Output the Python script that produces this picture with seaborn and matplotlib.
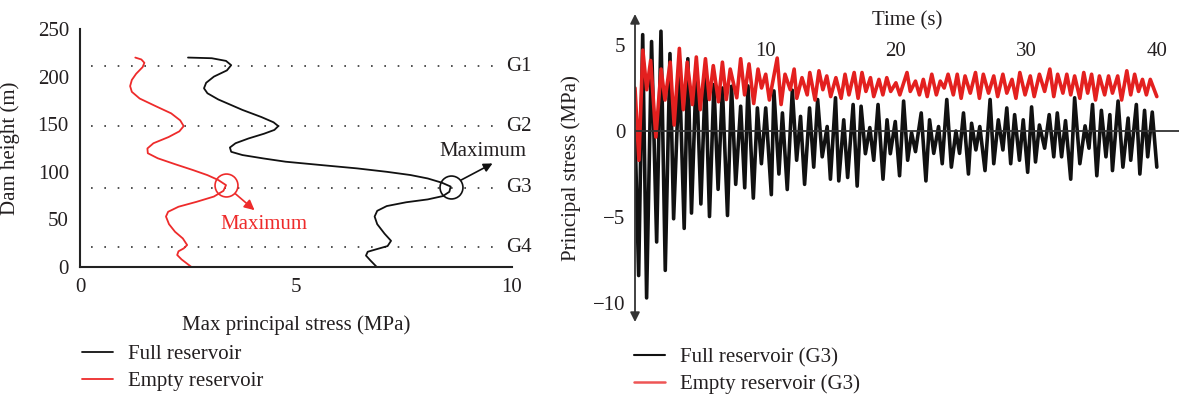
import numpy as np
import pandas as pd
import matplotlib
matplotlib.use("Agg")
import matplotlib.pyplot as plt
import seaborn as sns
from matplotlib.lines import Line2D

# ---------------- data: left panel (profile along dam height) ----------------
full_stress = [2.50, 3.05, 3.38, 3.50, 3.40, 3.10, 2.92, 2.87, 2.95, 3.20, 3.76, 4.20,
               4.48, 4.59, 4.50, 4.26, 3.90, 3.60, 3.47, 3.50, 3.76, 4.25, 4.76, 5.60,
               6.41, 7.10, 7.65, 8.05, 8.38, 8.58, 8.55, 8.40, 8.05, 7.55, 7.10, 6.88,
               6.82, 6.88, 7.05, 7.20, 7.12, 6.85, 6.66, 6.62, 6.72, 6.87]
full_height = [220.0, 219.3, 216.5, 212.0, 206.5, 200.0, 193.5, 187.7, 182.5, 176.0, 165.0, 157.5,
               152.0, 148.0, 144.0, 140.0, 135.0, 130.0, 125.5, 121.0, 117.6, 114.0, 110.6, 107.0,
               103.6, 100.0, 96.6, 93.0, 88.5, 84.5, 79.0, 74.5, 71.0, 68.0, 64.0, 59.0,
               53.0, 45.0, 35.0, 27.5, 22.0, 18.5, 16.0, 12.0, 7.0, 0.0]

empty_stress = [1.28, 1.42, 1.49, 1.45, 1.30, 1.20, 1.16, 1.20, 1.38, 1.75, 2.11, 2.32,
                2.40, 2.30, 2.05, 1.70, 1.56, 1.57, 1.80, 2.20, 2.61, 2.95, 3.20, 3.38,
                3.32, 3.10, 2.70, 2.28, 2.04, 1.99, 2.06, 2.20, 2.38, 2.48, 2.40, 2.28,
                2.25, 2.35, 2.58]
empty_height = [220.0, 218.0, 214.5, 210.0, 203.0, 196.5, 190.0, 184.0, 177.0, 169.0, 161.4, 154.0,
                148.0, 142.5, 136.5, 130.0, 124.5, 119.5, 114.2, 108.0, 101.9, 96.5, 91.4, 86.0,
                80.0, 74.0, 68.5, 63.3, 58.0, 53.0, 45.0, 37.0, 30.0, 23.1, 19.5, 16.5,
                12.6, 8.0, 0.0]

gauge_heights = [211, 148, 83, 21]
gauge_labels = ["G1", "G2", "G3", "G4"]

# ---------------- data: right panel (time history at G3) ----------------
t_full = [0.0, 0.28, 0.59, 0.89, 1.27, 1.66, 1.99, 2.32, 2.68, 2.96, 3.40, 3.77, 4.05, 4.33,
          4.70, 5.05, 5.40, 5.71, 6.05, 6.37, 6.70, 7.09, 7.40, 7.72, 8.10, 8.41, 8.66, 9.07,
          9.38, 9.69, 10.02, 10.45, 10.65, 11.03, 11.30, 11.67, 12.06, 12.39, 12.69, 13.0,
          13.38, 13.7, 14.0, 14.35, 14.73, 14.98, 15.37, 15.62, 16.0, 16.3, 16.72, 17.03,
          17.33, 17.66, 18.0, 18.3, 18.63, 19.01, 19.32, 19.57, 19.95, 20.28, 20.59, 20.9,
          21.2, 21.5, 21.94, 22.3, 22.58, 22.9, 23.27, 23.55, 23.9, 24.25, 24.6, 24.88,
          25.18, 25.56, 25.8, 26.13, 26.43, 26.83, 27.22, 27.5, 27.85, 28.2, 28.5, 28.8,
          29.1, 29.47, 29.76, 30.1, 30.4, 30.7, 31.0, 31.4, 31.75, 32.1, 32.37, 32.7,
          33.0, 33.4, 33.7, 34.1, 34.5, 34.8, 35.07, 35.4, 35.75, 36.1, 36.4, 36.6,
          37.03, 37.4, 37.8, 38.0, 38.43, 38.7, 39.06, 39.3, 39.65, 40.0]
s_full = [0.0, -8.4, 5.6, -9.7, 5.2, -6.45, 5.8, -8.1, 4.5, -5.1, 3.6, -5.66, 4.2, -4.77,
          3.6, -4.24, 3.3, -4.97, 2.7, -3.39, 2.5, -4.91, 2.6, -3.1, 1.44, -3.3, 2.62, -3.9,
          1.34, -1.9, 1.34, -3.7, 2.33, -2.5, 1.05, -3.4, 2.37, -1.7, 0.85, -3.1,
          1.34, -2.1, 1.83, -1.5, 0.26, -2.8, 1.93, -2.9, 0.65, -2.7, 1.54, -3.2,
          1.44, -1.32, 0.2, -1.7, 1.54, -2.8, 0.65, -1.32, 0.55, -2.6, 1.74, -1.7,
          -0.1, -1.2, 1.05, -2.9, 0.65, -1.3, 0.26, -1.9, 1.83, -2.1, 0.0, -1.3,
          1.05, -2.5, 0.45, -1.1, 0.26, -2.3, 1.83, -1.9, 0.65, -1.1, 1.34, -1.9,
          0.95, -1.7, 0.65, -2.4, 1.4, -1.8, 0.35, -1.0, 0.95, -1.5, 1.05, -1.5,
          0.6, -2.8, 1.93, -1.9, 0.3, -1.0, 1.54, -2.6, 1.2, -1.5, 0.95, -2.3,
          1.74, -2.1, 0.75, -1.7, 1.54, -2.5, 1.2, -1.5, 1.1, -2.1]

t_empty = [0.0, 0.3, 0.6, 0.9, 1.2, 1.6, 2.0, 2.3, 2.7, 3.0, 3.4, 3.7, 4.0, 4.4, 4.7, 5.0,
           5.4, 5.7, 6.0, 6.4, 6.7, 7.0, 7.3, 7.8, 8.1, 8.4, 8.74, 9.1, 9.43, 9.7, 10.02,
           10.3, 10.9, 11.2, 11.5, 11.9, 12.2, 12.4, 12.8, 13.2, 13.4, 13.8, 14.1, 14.4,
           14.7, 15.0, 15.4, 15.8, 16.1, 16.4, 16.8, 17.1, 17.4, 17.7, 18.05, 18.3, 18.7,
           19.0, 19.3, 19.6, 20.0, 20.3, 20.85, 21.1, 21.5, 21.8, 22.1, 22.4, 22.75, 23.1,
           23.4, 23.7, 24.0, 24.4, 24.7, 25.0, 25.3, 25.7, 26.1, 26.4, 26.7, 27.1, 27.5,
           27.8, 28.2, 28.5, 28.9, 29.2, 29.5, 29.9, 30.3, 30.6, 31.0, 31.4, 31.8, 32.1,
           32.4, 32.8, 33.1, 33.4, 33.7, 34.1, 34.4, 34.7, 35.0, 35.3, 35.6, 36.0, 36.3,
           36.6, 37.0, 37.3, 37.7, 38.0, 38.3, 38.6, 38.9, 39.2, 39.5, 40.0]
s_empty = [2.5, -1.7, 4.7, 2.4, 4.1, -0.35, 3.6, 1.8, 4.0, 0.35, 4.8, 1.24, 4.0, 1.54, 4.3, 1.24,
           4.2, 1.83, 3.8, 1.7, 4.0, 1.83, 3.6, 1.93, 4.2, 2.1, 3.9, 1.6, 3.6, 2.5, 3.3,
           1.8, 4.24, 1.54, 3.3, 2.4, 3.6, 1.9, 3.1, 2.1, 3.4, 1.8, 3.5, 2.4,
           3.2, 2.0, 3.1, 1.9, 3.3, 2.1, 3.4, 1.9, 3.4, 2.3, 3.1, 2.0, 3.0,
           2.1, 3.1, 2.3, 2.8, 2.1, 3.4, 2.3, 2.9, 2.1, 3.0, 2.0, 3.3, 2.1,
           2.9, 2.5, 3.3, 2.1, 3.3, 1.9, 3.2, 2.2, 3.4, 1.9, 3.3, 2.2, 3.2,
           2.0, 3.3, 2.2, 3.0, 1.9, 3.4, 2.1, 3.2, 2.0, 3.3, 2.3, 3.6, 2.0,
           3.3, 2.2, 3.3, 2.1, 3.2, 1.9, 3.4, 2.2, 3.3, 1.8, 3.2, 2.1, 3.2,
           2.2, 3.2, 1.8, 3.5, 2.1, 3.3, 2.3, 3.0, 2.1, 3.0, 2.0]

time_ticks = [10, 20, 30, 40]
stress_ticks = [-10, -5, 0, 5]
height_ticks = [0, 50, 100, 150, 200, 250]
profile_ticks = [0, 5, 10]

left_labels = ["Full reservoir", "Empty reservoir"]
right_labels = ["Full reservoir (G3)", "Empty reservoir (G3)"]

# ---------------- styling ----------------
sns.set_theme(style="white")
plt.rcParams["font.family"] = ["Liberation Serif", "DejaVu Serif"]
FS = 15
TXT = "#231f20"
BLACK = "#111111"
RED_L = "#ee2b2b"
RED_R = "#e3201f"

W, H = 1179, 399
fig = plt.figure(figsize=(W / 100, H / 100), dpi=100)

# ---------------- left panel ----------------
axL = fig.add_axes([80 / W, (H - 267) / H, 432 / W, 238 / H])
sns.lineplot(x=full_stress, y=full_height, sort=False, estimator=None,
             color=BLACK, lw=1.3, ax=axL)
sns.lineplot(x=empty_stress, y=empty_height, sort=False, estimator=None,
             color=RED_L, lw=1.3, ax=axL)
axL.set_xlim(0, 10)
axL.set_ylim(0, 250)
for h, g in zip(gauge_heights, gauge_labels):
    axL.axhline(h, xmin=0.025, xmax=0.97, color="#333333", lw=1.2,
                ls=(0, (1, 7)), zorder=0)
    axL.text(9.86, h, g, ha="left", va="center", fontsize=FS, color=TXT,
             clip_on=False)

# maxima
i_f = int(np.argmax(full_stress))
i_e = int(np.argmax(empty_stress))
mf = (full_stress[i_f], full_height[i_f])
me = (empty_stress[i_e], empty_height[i_e])
axL.plot([mf[0]], [mf[1]], marker="o", ms=16.5, mfc="none", mec=BLACK, mew=1.2)
axL.plot([me[0]], [me[1]], marker="o", ms=16.5, mfc="none", mec=RED_L, mew=1.2)
axL.annotate("", xy=(mf[0] + 0.97, mf[1] + 24.3), xytext=(mf[0] + 0.24, mf[1] + 6.8),
             arrowprops=dict(arrowstyle="-|>", color=BLACK, lw=1.2,
                             mutation_scale=13, shrinkA=0, shrinkB=0), annotation_clip=False)
axL.annotate("", xy=(me[0] + 0.66, me[1] - 26.3), xytext=(me[0] + 0.21, me[1] - 8.8),
             arrowprops=dict(arrowstyle="-|>", color=RED_L, lw=1.2,
                             mutation_scale=15, shrinkA=0, shrinkB=0))
axL.text(mf[0] + 0.74, mf[1] + 36.6, "Maximum", ha="center", va="center",
         fontsize=FS, color=TXT, clip_on=False)
axL.text(me[0] + 0.88, me[1] - 41.4, "Maximum", ha="center", va="center",
         fontsize=FS, color=RED_L)

axL.set_xticks(profile_ticks)
axL.set_yticks(height_ticks)
axL.tick_params(length=0, labelsize=FS, colors=TXT, pad=8)
for s in ["top", "right"]:
    axL.spines[s].set_visible(False)
for s in ["left", "bottom"]:
    axL.spines[s].set_color("#222222")
    axL.spines[s].set_linewidth(1.5)
axL.set_xlabel("Max principal stress (MPa)", fontsize=FS, color=TXT)
axL.set_ylabel("Dam height (m)", fontsize=FS, color=TXT)
axL.xaxis.set_label_coords(0.5, -0.202)
axL.yaxis.set_label_coords(-0.14, 0.5)

# ---------------- right panel ----------------
axR = fig.add_axes([635 / W, (H - 322) / H, 544 / W, 308 / H])
sns.lineplot(x=t_full, y=s_full, sort=False, estimator=None, color=BLACK,
             lw=2.6, ax=axR)
sns.lineplot(x=t_empty, y=s_empty, sort=False, estimator=None, color=RED_R,
             lw=2.6, ax=axR)
axR.set_xlim(0, 41.7)
axR.set_ylim(-11.1, 6.8)
axR.axhline(0, color="#333333", lw=1.3, zorder=5)
axR.annotate("", xy=(0, 1), xytext=(0, 0), xycoords="axes fraction",
             arrowprops=dict(arrowstyle="<|-|>", color="#333333", lw=1.3,
                             mutation_scale=14, shrinkA=0, shrinkB=0))
for s in ["left", "right", "bottom"]:
    axR.spines[s].set_visible(False)
axR.xaxis.tick_top()
axR.spines["top"].set_position(("data", 3.75))
axR.spines["top"].set_visible(False)
axR.set_xticks(time_ticks)
axR.set_yticks(stress_ticks)
axR.set_yticklabels(["\u221210", "\u22125", "0", "5"])
axR.tick_params(axis="x", length=0, pad=4, labelsize=FS, colors=TXT)
axR.tick_params(axis="y", length=0, pad=7, labelsize=FS, colors=TXT)
axR.set_xlabel("Time (s)", fontsize=FS, color=TXT, labelpad=12)
axR.xaxis.set_label_position("top")
axR.set_ylabel("Principal stress (MPa)", fontsize=FS, color=TXT)
axR.yaxis.set_label_coords(-0.1, 0.5)

# ---------------- legends ----------------
hl = [Line2D([], [], color=BLACK, lw=1.3), Line2D([], [], color=RED_L, lw=1.3)]
fig.legend(hl, left_labels, loc="center left", bbox_to_anchor=(82 / W, (H - 368) / H),
           frameon=False, fontsize=FS, handlelength=1.5, handletextpad=0.7,
           labelspacing=0.35, borderpad=0, borderaxespad=0, labelcolor=TXT)
hr = [Line2D([], [], color=BLACK, lw=1.5), Line2D([], [], color="#ee5555", lw=1.8)]
fig.legend(hr, right_labels, loc="center left", bbox_to_anchor=(634 / W, (H - 371) / H),
           frameon=False, fontsize=FS, handlelength=1.5, handletextpad=0.7,
           labelspacing=0.35, borderpad=0, borderaxespad=0, labelcolor=TXT)

fig.savefig("out.png", dpi=100)
